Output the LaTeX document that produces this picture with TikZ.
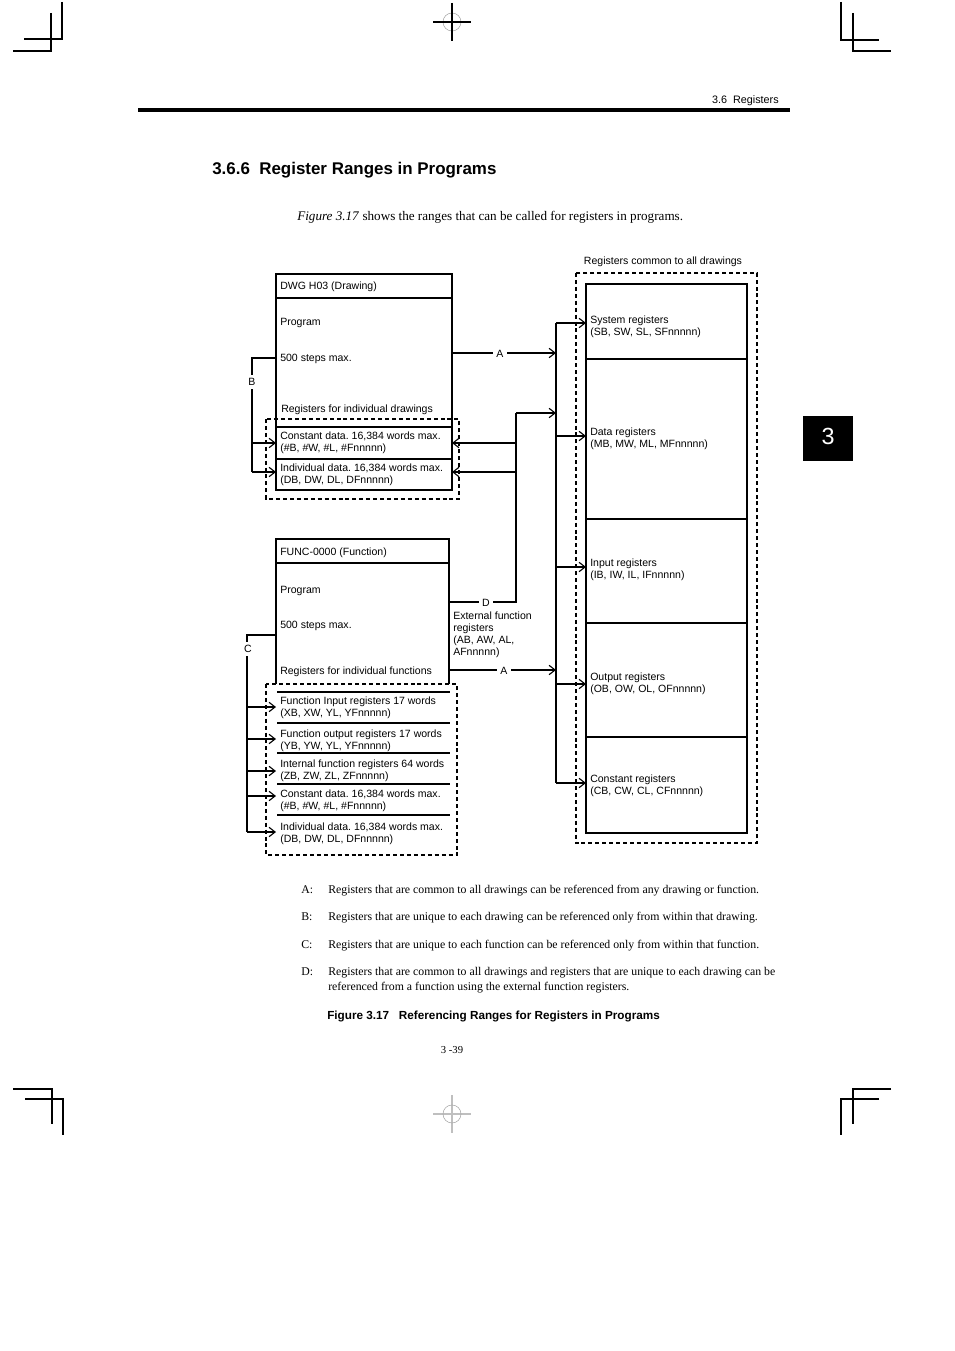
\documentclass[tikz,border=0pt]{standalone}
\usepackage{fontspec}
\setmainfont{Liberation Serif}
\setsansfont{Liberation Sans}
\usetikzlibrary{arrows.meta}
\frenchspacing
\tikzset{
  box/.style={line width=1pt},
  dashbox/.style={line width=0.8pt, dash pattern=on 3pt off 2.2pt},
  conn/.style={line width=0.85pt},
  arr/.style={conn, -{Straight Barb[length=4.5pt,width=7pt]}},
  txt/.style={font=\sffamily\fontsize{7.9}{9}\selectfont, inner sep=0pt, anchor=west, align=left, yshift=-1.1pt},
  letter/.style={font=\sffamily\fontsize{7.9}{9}\selectfont, inner sep=2.5pt, fill=white, yshift=-0.5pt},
  body/.style={font=\fontsize{8.85}{11}\selectfont, inner sep=0pt, anchor=base west},
  crop/.style={line width=1pt},
}
\begin{document}
\begin{tikzpicture}[x=0.75pt,y=-0.75pt]
  \useasboundingbox (0,0) rectangle (954,1351);
  % page marks
  \draw[crop] (62,2) -- (62,39) -- (24,39);
  \draw[crop] (51,13) -- (51,51) -- (13,51);
  \draw[crop] (841,2) -- (841,40) -- (879,40);
  \draw[crop] (853,13) -- (853,51) -- (891,51);
  \draw[crop] (13,1089) -- (52,1089) -- (52,1124);
  \draw[crop] (25,1099) -- (63,1099) -- (63,1135);
  \draw[crop] (891,1089) -- (853,1089) -- (853,1124);
  \draw[crop] (879,1099) -- (841,1099) -- (841,1135);
  \draw[gray!70] (452,22) circle [radius=9];
  \draw[line width=0.9pt] (452,3) -- (452,41) (433,22) -- (471,22);
  \draw[gray!50, line width=0.8pt] (452,1095) -- (452,1133) (433,1114) -- (471,1114);
  \draw[gray!70] (452,1114) circle [radius=9];
  % header
  \node[font=\sffamily\fontsize{8.1}{10}\selectfont, inner sep=0pt, anchor=base east] (head) at (779,103.5) {3.6\ \ Registers};
  \draw[line width=3pt] (138,110.5) -- (790,110.5);
  \node[font=\sffamily\bfseries\fontsize{12.7}{15}\selectfont, inner sep=0pt, anchor=base west] (title) at (212,175) {3.6.6\ \ Register Ranges in Programs};
  \node[body, font=\fontsize{9.85}{12}\selectfont] (intro) at (297,220.5) {\textit{Figure 3.17} shows the ranges that can be called for registers in programs.};
  \fill (803,416) rectangle (853,461);
  \node[white, font=\sffamily\fontsize{17.5}{20}\selectfont, inner sep=0pt] (tab) at (828,436) {3};

  % registers common to all drawings
  \node[txt, anchor=base, yshift=1.1pt] (common) at (663,264.5) {Registers common to all drawings};
  \draw[dashbox] (576,273) rectangle (757,843);
  \draw[box] (586,284) rectangle (747,833);
  \foreach \y in {359,519,623,737} \draw[box] (586,\y) -- (747,\y);
  \node[txt] (sys) at (590,325) {System registers\\(SB, SW, SL, SFnnnnn)};
  \node[txt] (dat) at (590,437) {Data registers\\(MB, MW, ML, MFnnnnn)};
  \node[txt] (inp) at (590,568) {Input registers\\(IB, IW, IL, IFnnnnn)};
  \node[txt] (outp) at (590,682) {Output registers\\(OB, OW, OL, OFnnnnn)};
  \node[txt] (cons) at (590,784) {Constant registers\\(CB, CW, CL, CFnnnnn)};
  \coordinate (busTop) at (556,323);
  \coordinate (busBot) at (556,783);
  \draw[conn] (busTop) -- (busBot);
  \foreach \y in {323,436,567,684,783} \draw[arr] (556,\y) -- (586,\y);

  % drawing
  \draw[box] (276,274) rectangle (452,490);
  \draw[box] (276,298) -- (452,298);
  \draw[box] (276,427) -- (452,427);
  \draw[box] (276,459) -- (452,459);
  \draw[dashbox] (266,419) rectangle (459,499);
  \node[txt] (dwg) at (280,285) {DWG H03 (Drawing)};
  \node[txt] (dprog) at (280,322) {Program};
  \node[txt] (dsteps) at (280,357) {500 steps max.};
  \node[txt] (dind) at (281,408) {Registers for individual drawings};
  \node[txt] (dcons) at (280,441) {Constant data. 16,384 words max.\\(\#B, \#W, \#L, \#Fnnnnn)};
  \node[txt] (ddata) at (280,473) {Individual data. 16,384 words max.\\(DB, DW, DL, DFnnnnn)};
  \draw[arr] (452,353) -- (556,353);
  \node[letter] (a1) at (500,353) {A};
  \draw[conn] (276,358) -- (252,358) -- (252,472);
  \draw[arr] (252,443) -- (276,443);
  \draw[arr] (252,472) -- (276,472);
  \node[letter] (b) at (252,381) {B};

  % function
  \draw[box] (276,684) -- (276,539) -- (449,539) -- (449,684);
  \draw[box] (276,563) -- (449,563);
  \draw[dashbox] (266,684) rectangle (457,855);
  \foreach \y in {692,723,753,784,815} \draw[box] (277,\y) -- (450,\y);
  \node[txt] (func) at (280,551) {FUNC-0000 (Function)};
  \node[txt] (fprog) at (280,589) {Program};
  \node[txt] (fsteps) at (280,624) {500 steps max.};
  \node[txt] (find) at (280,670) {Registers for individual functions};
  \node[txt] (fin) at (280,706) {Function Input registers 17 words\\(XB, XW, YL, YFnnnnn)};
  \node[txt] (fout) at (280,739) {Function output registers 17 words\\(YB, YW, YL, YFnnnnn)};
  \node[txt] (fint) at (280,769) {Internal function registers 64 words\\(ZB, ZW, ZL, ZFnnnnn)};
  \node[txt] (fcons) at (280,799) {Constant data. 16,384 words max.\\(\#B, \#W, \#L, \#Fnnnnn)};
  \node[txt] (fdata) at (280,832) {Individual data. 16,384 words max.\\(DB, DW, DL, DFnnnnn)};
  \node[txt] (ext) at (453,633.5) {External function\\registers\\(AB, AW, AL,\\AFnnnnn)};
  \draw[arr] (449,670) -- (556,670);
  \node[letter] (a2) at (504,670) {A};
  \draw[conn] (449,602) -- (516,602) -- (516,413);
  \draw[arr] (516,413) -- (556,413);
  \draw[arr] (516,443) -- (452,443);
  \draw[arr] (516,472) -- (452,472);
  \node[letter] (d) at (486,602) {D};
  \draw[conn] (276,635) -- (247,635) -- (247,832);
  \foreach \y in {707,739,771,796,832} \draw[arr] (247,\y) -- (276,\y);
  \node[letter] (c) at (248,648) {C};

  % notes
  \node[body] (na) at (301,893) {A:};
  \node[body] (ta) at (328,893) {Registers that are common to all drawings can be referenced from any drawing or function.};
  \node[body] (nb) at (301,920) {B:};
  \node[body] (tb) at (328,920) {Registers that are unique to each drawing can be referenced only from within that drawing.};
  \node[body] (nc) at (301,948) {C:};
  \node[body] (tc) at (328,948) {Registers that are unique to each function can be referenced only from within that function.};
  \node[body] (nd) at (301,975) {D:};
  \node[body] (td) at (328,975) {Registers that are common to all drawings and registers that are unique to each drawing can be};
  \node[body] (td2) at (328,990) {referenced from a function using the external function registers.};
  \node[font=\sffamily\bfseries\fontsize{8.8}{11}\selectfont, inner sep=0pt, anchor=base west] (cap) at (327,1019.2) {Figure 3.17\ \ \ Referencing Ranges for Registers in Programs};
  \node[font=\fontsize{8}{10}\selectfont, inner sep=0pt, anchor=base] (page) at (452,1053.5) {3 -39};
\end{tikzpicture}
\end{document}
